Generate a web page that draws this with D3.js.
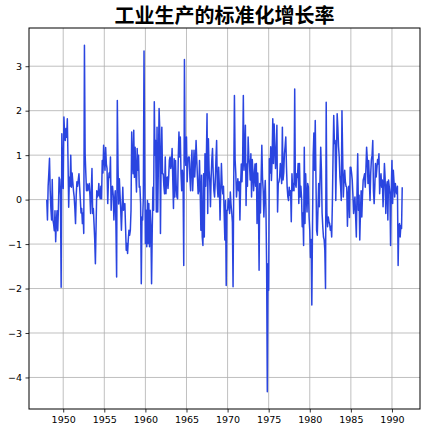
<!DOCTYPE html>
<html>
<head>
<meta charset="utf-8">
<script src="https://cdn.jsdelivr.net/npm/d3@7"></script>
<style>
  body { margin: 0; background: #fff; }
  svg { display: block; }
</style>
</head>
<body>
<svg id="chart"></svg>
<script>
// monthly standardized growth of industrial production, Jan 1948 - Apr 1991
const startYear = 1948;
const title = "工业生产的标准化增长率";
const xTicks = [1950, 1955, 1960, 1965, 1970, 1975, 1980, 1985, 1990];
const yTicks = [-4, -3, -2, -1, 0, 1, 2, 3];

const growth1948to1957 = [
  0.0, -0.46, 0.3, 0.6, 0.93, 0.2, -0.2, -0.46, 0.45, -0.46, -0.55, -0.7,
  -0.25, -0.95, -0.5, -0.25, -0.7, -0.2, 0.5, 0.45, 0.1, -1.97, 1.48, 0.6,
  0.25, 1.86, 1.5, 1.33, 1.6, 1.4, 1.82, 0.9, -0.17, 0.5, 0.3, 1.0,
  0.28, 0.6, 0.4, 0.2, 0.06, -0.2, -0.54, 0.1, 0.4, 0.3, 0.45, 0.58,
  0.28, 0.0, -0.3, -0.2, -0.54, -0.3, -0.76, 3.47, 1.03, 0.6, 0.2, 0.35,
  0.2, 0.3, 0.36, 0.1, -0.31, 0.2, 0.7, -0.31, -0.2, -0.54, -0.9, -1.44,
  -0.6, 0.2, 0.06, 0.1, 0.36, 0.1, 0.02, 0.3, 0.02, 0.88, 0.6, 1.22,
  0.9, 0.66, 1.17, 0.8, 0.7, -0.09, 0.4, 0.6, 0.5, 0.96, -0.24, 0.28,
  0.3, 0.1, -0.46, 0.0, 0.2, -0.6, -1.74, 2.23, 0.77, -0.1, 0.47, 0.1,
  -0.24, -0.69, -0.2, 0.28, -0.24, -0.1, -0.09, -0.6, -1.14, -0.99, -1.21, -0.9
];
const growth1958to1967 = [
  -0.69, -0.8, -0.69, -0.24, 1.52, 0.9, 0.58, 1.56, 0.5, 1.18, 0.6, 0.17,
  1.15, 0.66, 1.0, 0.28, 0.3, -0.09, -1.89, -0.39, -0.46, 0.06, 3.34, 0.81,
  -0.99, -0.24, -1.06, -0.02, -0.99, -0.09, -1.06, -0.24, -0.6, -1.89, -0.69, 0.28,
  -0.24, 2.2, 1.0, 1.33, -0.28, 1.63, -0.28, 0.8, 2.05, 1.56, -0.76, 0.96,
  1.63, 0.58, 0.58, 0.3, 0.13, 0.96, 0.13, 0.47, 0.51, 0.25, 0.5, 0.88,
  0.96, 0.7, 0.81, 1.15, 0.44, -0.2, 0.92, 0.06, 0.88, 0.3, 0.06, 0.02,
  0.96, 1.52, 0.96, 1.41, 0.58, 0.2, 0.66, 0.4, -1.48, 3.15, 1.11, 0.77,
  1.41, 0.4, 0.88, 0.96, 0.96, 0.5, 0.2, 0.81, 1.11, 0.2, 0.6, 1.11,
  0.51, 0.81, 1.33, 0.9, 0.5, 0.13, 0.2, 0.88, 0.2, -0.69, 0.55, -0.84,
  -1.03, 0.58, -0.84, 1.03, 0.3, 0.9, 1.93, -0.31, 1.37, 0.66, 0.4, -0.16
];
const growth1968to1977 = [
  0.5, 0.9, 1.15, 0.6, 0.2, 0.06, 0.4, 0.9, 1.33, 0.3, 0.06, 0.73,
  0.3, -0.46, 0.2, 0.81, 0.32, 0.13, 0.3, -0.3, -0.91, -0.02, -1.93, -0.24,
  -0.24, 0.02, -0.1, -0.31, 0.17, -0.1, -0.28, -0.5, -1.96, 0.43, 2.34, 0.9,
  0.58, 0.06, 0.3, 0.47, 0.2, 0.4, -0.46, 0.3, 0.8, 0.4, 0.9, 2.34,
  0.66, 1.0, 1.67, -0.13, 0.8, 0.3, 1.41, 0.96, 0.8, 0.44, 1.03, 0.06,
  0.9, 0.66, 0.2, 0.5, 0.8, 0.3, 0.81, -0.54, 0.6, 0.0, -1.59, 0.36,
  -0.3, 0.5, 1.22, 0.5, 0.2, -0.39, 0.1, 0.43, -0.2, -1.44, -4.32, -1.44,
  -2.04, 0.92, 0.6, 1.19, 0.43, 0.9, 1.82, 0.81, 1.7, 1.2, 0.7, 1.03,
  1.67, -0.28, 0.36, 0.4, 0.5, 0.81, 0.6, 0.36, 1.63, 0.44, 0.6, 1.03,
  1.2, 1.41, 0.73, 0.28, 0.06, -0.02, 0.28, 0.1, 0.2, -0.5, 0.58, 0.2
];
const growth1978to1991 = [
  0.36, 0.2, 2.49, 0.36, 0.28, 0.58, 0.5, 0.81, -0.09, 0.81, 0.06, 0.3,
  0.06, -0.61, -0.3, -1.03, 1.18, -0.54, 0.58, 0.1, -0.28, 0.36, 0.28, -0.39,
  -0.69, -1.3, -0.9, -2.37, -0.61, 1.0, 1.5, 0.66, 1.78, 0.5, -0.69, -0.8,
  -0.2, 0.36, -0.16, 0.5, 1.18, 0.66, -0.3, -0.61, -0.84, -0.9, -1.14, -2.0,
  2.19, -0.3, -0.61, -0.39, -0.5, -0.54, -0.69, -0.6, -0.84, -0.09, 1.0, 1.89,
  1.26, 1.33, -0.02, 1.0, 1.93, 1.63, 1.2, 0.96, 0.51, 0.3, -0.02, 2.0,
  1.03, 0.06, 0.4, 0.66, 0.4, 0.3, 0.28, -0.6, 0.1, 0.3, -0.4, 0.73,
  0.73, 0.6, 0.44, 0.1, -0.31, -0.1, 0.06, -0.4, -0.84, 0.2, 1.03, -0.24,
  0.1, -0.91, -0.3, 0.2, -0.39, 0.1, 0.44, 0.5, 0.58, 0.28, 0.7, 1.18,
  0.9, 0.36, 0.88, 0.4, -0.02, 0.6, 0.9, 1.0, 1.33, 0.2, -0.09, 0.3,
  0.81, 0.51, 0.7, 0.9, 0.8, 1.03, 0.13, 0.4, 0.58, 0.28, 0.44, -0.16,
  0.3, 0.81, 0.5, -0.31, 0.28, 0.4, -0.46, 0.44, 0.3, 0.13, -1.03, 0.2,
  0.88, -0.09, 0.66, 0.4, 0.06, 0.36, 0.2, 0.13, 0.3, -1.48, -0.6, -0.54,
  -0.84, -0.58, -0.65, 0.28
];

const values = [].concat(growth1948to1957, growth1958to1967, growth1968to1977, growth1978to1991);
const data = values.map((v, i) => ({ t: startYear + i / 12, v: v }));

const width = 426, height = 433;
const margin = { top: 28, right: 6, bottom: 24, left: 29 };

const svg = d3.select("#chart")
    .attr("width", width)
    .attr("height", height);

// matplotlib style 5% padding around the data
const tExt = d3.extent(data, d => d.t);
const vExt = d3.extent(data, d => d.v);
const tPad = (tExt[1] - tExt[0]) * 0.05;
const vPad = (vExt[1] - vExt[0]) * 0.05;

const x = d3.scaleLinear()
    .domain([tExt[0] - tPad, tExt[1] + tPad])
    .range([margin.left, width - margin.right]);

const y = d3.scaleLinear()
    .domain([vExt[0] - vPad, vExt[1] + vPad])
    .range([height - margin.bottom, margin.top]);

// grid
svg.append("g")
    .selectAll("line.vgrid")
    .data(xTicks)
    .join("line")
    .attr("x1", d => x(d)).attr("x2", d => x(d))
    .attr("y1", margin.top).attr("y2", height - margin.bottom)
    .attr("stroke", "#b0b0b0")
    .attr("stroke-width", 0.8);

svg.append("g")
    .selectAll("line.hgrid")
    .data(yTicks)
    .join("line")
    .attr("x1", margin.left).attr("x2", width - margin.right)
    .attr("y1", d => y(d)).attr("y2", d => y(d))
    .attr("stroke", "#b0b0b0")
    .attr("stroke-width", 0.8);

// the series
const line = d3.line()
    .x(d => x(d.t))
    .y(d => y(d.v));

svg.append("path")
    .datum(data)
    .attr("fill", "none")
    .attr("stroke", "#2a45e0")
    .attr("stroke-width", 1.5)
    .attr("stroke-linejoin", "round")
    .attr("d", line);

// axes
const fmtMinus = d => String(d).replace("-", "\u2212");

const xAxis = svg.append("g")
    .attr("transform", `translate(0,${height - margin.bottom})`)
    .call(d3.axisBottom(x).tickValues(xTicks).tickFormat(d3.format("d")).tickSize(3.5).tickPadding(3.5));

const yAxis = svg.append("g")
    .attr("transform", `translate(${margin.left},0)`)
    .call(d3.axisLeft(y).tickValues(yTicks).tickFormat(fmtMinus).tickSize(3.5).tickPadding(3.5));

[xAxis, yAxis].forEach(g => {
    g.select(".domain").remove();
    g.selectAll("text")
        .attr("fill", "#000")
        .style("font-family", "DejaVu Sans, sans-serif")
        .style("font-size", "9.5px");
    g.selectAll("line").attr("stroke", "#000").attr("stroke-width", 0.8);
});

// frame
svg.append("rect")
    .attr("x", margin.left)
    .attr("y", margin.top)
    .attr("width", width - margin.left - margin.right)
    .attr("height", height - margin.top - margin.bottom)
    .attr("fill", "none")
    .attr("stroke", "#000")
    .attr("stroke-width", 1);

// title
svg.append("text")
    .attr("x", (margin.left + width - margin.right) / 2)
    .attr("y", 23)
    .attr("text-anchor", "middle")
    .style("font-family", "Noto Sans CJK SC, sans-serif")
    .style("font-weight", "bold")
    .style("font-size", "20px")
    .text(title);
</script>
</body>
</html>
